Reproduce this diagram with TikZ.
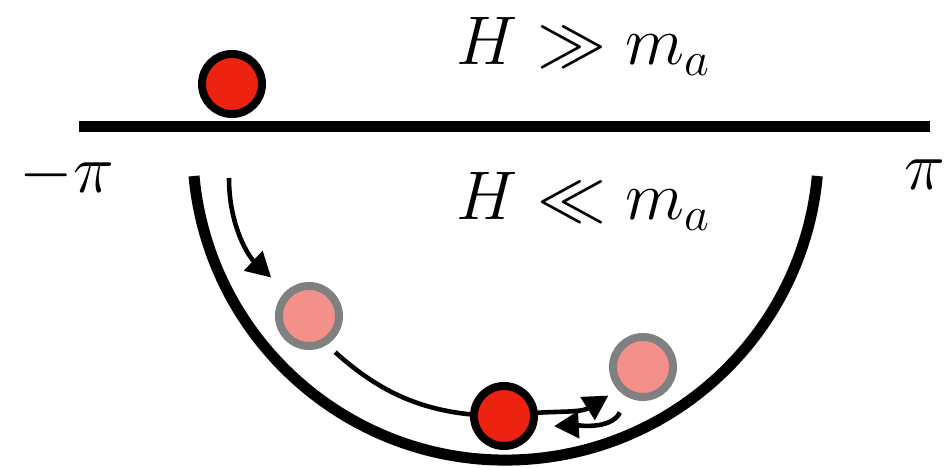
\RequirePackage{fix-cm}
\documentclass[tikz,border=0pt]{standalone}
\usepackage{amsmath,amssymb}
\usepackage{xcolor}
\usepackage{tikz}
\usetikzlibrary{arrows.meta,backgrounds}
\tikzset{>={Triangle[length=7pt,width=7.5pt]}}
\definecolor{ballred}{HTML}{EE2210}
\definecolor{ballpink}{HTML}{F4908A}
\definecolor{ringgray}{HTML}{808080}
\tikzset{
  ball/.style={circle,inner sep=0pt,minimum size=0.60cm,line width=0.08cm},
  nowball/.style={ball,draw=black,fill=ballred},
  oldball/.style={ball,draw=ringgray,fill=ballpink},
  roll/.style={->,line width=1.3pt},
  big/.style={font=\fontsize{19.6}{24}\selectfont,inner sep=0pt},
}
\newcommand{\potential}{%
  \draw[line width=0.11cm] (0.79,3.415) -- (9.30,3.415);
  \draw[line width=0.11cm] (1.94,2.92) arc[start angle=185.3,end angle=354.7,radius=3.13];
}

\begin{document}
\begin{tikzpicture}
\useasboundingbox (0,0) rectangle (9.49,4.68);
\potential
\node[nowball] (ballup) at (2.32,3.84) {};
\node[oldball] (ballA) at (3.09,1.52) {};
\node[nowball] (ballB) at (5.04,0.52) {};
\node[oldball] (ballC) at (6.43,1.01) {};
\coordinate (fall) at (2.29,2.90);
\begin{pgfonlayer}{background}
\draw[roll,shorten >=0.20cm] (fall) to[out=-90,in=137] (ballA.133);
\draw[roll,shorten <=0.11cm,shorten >=0.11cm] (ballA.-58) to[out=-42,in=180] (ballB.center) to[out=8,in=212] (ballC.-138);
\end{pgfonlayer}
\draw[roll,shorten <=0.17cm,shorten >=0.18cm] (ballC.-118) to[out=-115,in=3] (ballB.-19);
\node[big,anchor=base west] (hot) at (4.56,4.03) {$H \gg m_a$};
\node[big,anchor=base west] (cold) at (4.56,2.48) {$H \ll m_a$};
\node[big] (mpi) at (0.67,2.93) {$-\pi$};
\node[big] (ppi) at (9.25,2.93) {$\pi$};
\end{tikzpicture}
\end{document}
